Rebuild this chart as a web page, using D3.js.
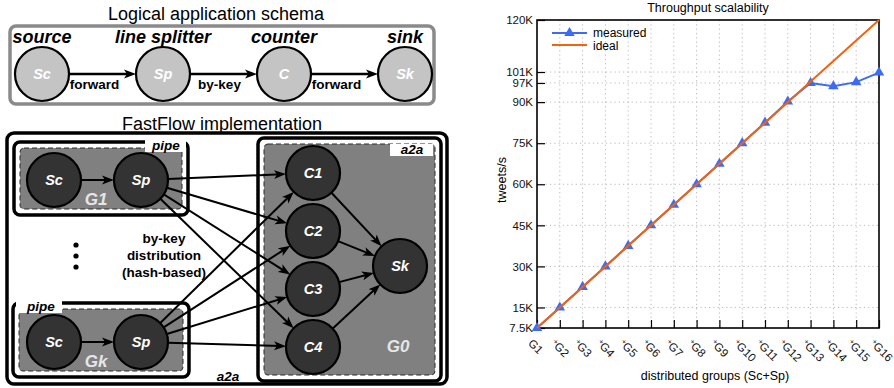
<!DOCTYPE html>
<html>
<head>
<meta charset="utf-8">
<script src="https://cdn.jsdelivr.net/npm/d3@7"></script>
<style>
  body { margin: 0; background: #fff; }
  svg { display: block; }
</style>
</head>
<body>
<div id="vis"></div>
<script>
const WIDTH = 894;
const HEIGHT = 388;
const FONT = "'Liberation Sans', Arial, Helvetica, sans-serif";

// logical application schema
const roles = ["source", "line splitter", "counter", "sink"];
const logicalNodes = ["Sc", "Sp", "C", "Sk"];
const logicalEdges = ["forward", "by-key", "forward"];

// FastFlow implementation
const groups = ["G1", "Gk"];
const counters = ["C1", "C2", "C3", "C4"];
const distLabel = ["by-key", "distribution", "(hash-based)"];

// throughput chart (K tweets/s)
const steps = ["G1", "+G2", "+G3", "+G4", "+G5", "+G6", "+G7", "+G8",
               "+G9", "+G10", "+G11", "+G12", "+G13", "+G14", "+G15", "+G16"];
const measured = [7.5, 15, 22.5, 30, 37.5, 45, 52.5, 60, 67.5, 75, 82.5, 90.2, 97, 95.8, 97.3, 100.8];
const ideal = [7.5, 15, 22.5, 30, 37.5, 45, 52.5, 60, 67.5, 75, 82.5, 90, 97.5, 105, 112.5, 120];
const yTicks = [7.5, 15, 30, 45, 60, 75, 90, 97, 101, 120];
const yTickLabels = ["7.5K", "15K", "30K", "45K", "60K", "75K", "90K", "97K", "101K", "120K"];

const BLUE = "#3d6cf4";
const ORANGE = "#f2620f";

const svg = d3.select("#vis")
  .append("svg")
    .attr("width", WIDTH)
    .attr("height", HEIGHT)
    .attr("font-family", FONT);

svg.append("defs").append("marker")
    .attr("id", "arrow")
    .attr("viewBox", "0 -5 12 10")
    .attr("refX", 7)
    .attr("refY", 0)
    .attr("markerWidth", 12)
    .attr("markerHeight", 10)
    .attr("markerUnits", "userSpaceOnUse")
    .attr("orient", "auto")
  .append("path")
    .attr("d", "M0,-4.5L12,0L0,4.5L3,0Z")
    .attr("fill", "#000");

// arrow between two circles of radius r
function edge(g, a, b, r, w) {
  const dx = b.x - a.x, dy = b.y - a.y, len = Math.hypot(dx, dy);
  const ux = dx / len, uy = dy / len;
  g.append("line")
    .attr("x1", a.x + ux * r).attr("y1", a.y + uy * r)
    .attr("x2", b.x - ux * (r + 5)).attr("y2", b.y - uy * (r + 5))
    .attr("stroke", "#000")
    .attr("stroke-width", w)
    .attr("marker-end", "url(#arrow)");
}

function node(g, p, label, fill, r) {
  g.append("circle")
    .attr("cx", p.x).attr("cy", p.y).attr("r", r)
    .attr("fill", fill).attr("stroke", "#000").attr("stroke-width", 2.2);
  g.append("text")
    .attr("x", p.x).attr("y", p.y + 5)
    .attr("text-anchor", "middle")
    .attr("font-size", 14.5).attr("font-weight", "bold").attr("font-style", "italic")
    .attr("fill", "#fff")
    .text(label);
}

// ---------------- logical schema ----------------
const TOP = svg.append("g");
TOP.append("text")
    .attr("x", 216).attr("y", 20)
    .attr("text-anchor", "middle")
    .attr("font-size", 18)
    .text("Logical application schema");

TOP.append("rect")
    .attr("x", 10).attr("y", 26).attr("width", 424).attr("height", 78)
    .attr("rx", 6)
    .attr("fill", "#fff").attr("stroke", "#8a8a8a").attr("stroke-width", 3.5);

const LX = d3.scalePoint().domain(logicalNodes).range([42, 405]);
const LY = 74;

logicalEdges.forEach((lbl, i) => {
  const a = {x: LX(logicalNodes[i]), y: LY};
  const b = {x: LX(logicalNodes[i + 1]), y: LY};
  edge(TOP, a, b, 27, 2.5);
  TOP.append("text")
      .attr("x", (a.x + b.x) / 2 + (lbl === "by-key" ? -4 : -8)).attr("y", 89)
      .attr("text-anchor", "middle")
      .attr("font-size", 13.5).attr("font-weight", "bold")
      .text(lbl);
});

logicalNodes.forEach((n, i) => {
  node(TOP, {x: LX(n), y: LY}, n, "#c4c4c4", 27);
  TOP.append("text")
      .attr("x", LX(n)).attr("y", 43)
      .attr("text-anchor", "middle")
      .attr("font-size", 18).attr("font-weight", "bold").attr("font-style", "italic")
      .text(roles[i]);
});

// ---------------- FastFlow implementation ----------------
const FF = svg.append("g");
FF.append("text")
    .attr("x", 222).attr("y", 130)
    .attr("text-anchor", "middle")
    .attr("font-size", 18)
    .text("FastFlow implementation");

FF.append("rect")
    .attr("x", 7).attr("y", 133).attr("width", 440).attr("height", 251)
    .attr("rx", 7)
    .attr("fill", "#fff").attr("stroke", "#000").attr("stroke-width", 3.5);

function groupBox(box, tag, tagBox, tagX, tagAnchor) {
  FF.append("rect")
      .attr("x", box.x).attr("y", box.y).attr("width", box.w).attr("height", box.h)
      .attr("rx", 6)
      .attr("fill", "#fff").attr("stroke", "#000").attr("stroke-width", 3.5);
  FF.append("rect")
      .attr("x", box.x + 6).attr("y", box.y + 6).attr("width", box.w - 12).attr("height", box.h - 12)
      .attr("rx", 4)
      .attr("fill", "#808080").attr("stroke", "#2a2a2a").attr("stroke-width", 1)
      .attr("stroke-dasharray", "5,3");
  FF.append("rect")
      .attr("x", tagBox.x).attr("y", tagBox.y).attr("width", tagBox.w).attr("height", tagBox.h)
      .attr("fill", "#fff");
  FF.append("text")
      .attr("x", tagX).attr("y", tagBox.y + tagBox.h - 2)
      .attr("text-anchor", tagAnchor)
      .attr("font-size", 13.5).attr("font-weight", "bold").attr("font-style", "italic")
      .text(tag);
}

groupBox({x: 14, y: 142, w: 174, h: 73}, "pipe", {x: 145, y: 139, w: 41, h: 13}, 166, "middle");
groupBox({x: 13, y: 303, w: 176, h: 74}, "pipe", {x: 16, y: 300, w: 46, h: 13}, 27, "start");
groupBox({x: 258, y: 138, w: 183, h: 243}, "a2a", {x: 390, y: 144, w: 43, h: 12}, 412, "middle");

// tag of the outer a2a
FF.append("text")
    .attr("x", 228).attr("y", 381)
    .attr("text-anchor", "middle")
    .attr("font-size", 13.5).attr("font-weight", "bold").attr("font-style", "italic")
    .text("a2a");

const GY = d3.scalePoint().domain(groups).range([180, 342]);
const CY = d3.scalePoint().domain(counters).range([173, 347]);
const SC_X = 54, SP_X = 141, C_X = 313;
const SK = {x: 400, y: 266};

// edges
groups.forEach(g => {
  const sc = {x: SC_X, y: GY(g)}, sp = {x: SP_X, y: GY(g)};
  edge(FF, sc, sp, 27, 2);
  counters.forEach(c => edge(FF, sp, {x: C_X, y: CY(c)}, 27, 2));
});
counters.forEach(c => edge(FF, {x: C_X, y: CY(c)}, SK, 27, 2));

// nodes
groups.forEach(g => {
  node(FF, {x: SC_X, y: GY(g)}, "Sc", "#333", 27);
  node(FF, {x: SP_X, y: GY(g)}, "Sp", "#333", 27);
  FF.append("text")
      .attr("x", 96).attr("y", GY(g) + 25)
      .attr("text-anchor", "middle")
      .attr("font-size", 17).attr("font-weight", "bold").attr("font-style", "italic")
      .attr("fill", "#e6e6e6")
      .text(g);
});
counters.forEach(c => node(FF, {x: C_X, y: CY(c)}, c, "#333", 27));
node(FF, SK, "Sk", "#333", 27);
FF.append("text")
    .attr("x", 398).attr("y", 352)
    .attr("text-anchor", "middle")
    .attr("font-size", 17).attr("font-weight", "bold").attr("font-style", "italic")
    .attr("fill", "#e6e6e6")
    .text("G0");

// vertical ellipsis between groups
FF.selectAll(".dot")
  .data([245, 256, 267])
  .enter()
  .append("circle")
    .attr("cx", 76).attr("cy", d => d).attr("r", 2.6)
    .attr("fill", "#000");

FF.selectAll(".dist")
  .data(distLabel)
  .enter()
  .append("text")
    .attr("x", 164).attr("y", (d, i) => 243 + i * 17)
    .attr("text-anchor", "middle")
    .attr("font-size", 13.5).attr("font-weight", "bold")
    .text(d => d);

// ---------------- throughput chart ----------------
const PLOT = {left: 537, right: 879, top: 20, bottom: 328};
const CH = svg.append("g");

const X_SCALE = d3.scalePoint().domain(steps).range([PLOT.left, PLOT.right]);
const Y_SCALE = d3.scaleLinear().domain([7.5, 120]).range([PLOT.bottom, PLOT.top]);

// dotted grid
CH.selectAll(".hgrid")
  .data(yTicks.slice(1, -1))
  .enter()
  .append("line")
    .attr("x1", PLOT.left).attr("x2", PLOT.right)
    .attr("y1", d => Y_SCALE(d)).attr("y2", d => Y_SCALE(d))
    .attr("stroke", "#bdbdbd").attr("stroke-dasharray", "1.3,3");
CH.selectAll(".vgrid")
  .data(steps.slice(1, -1))
  .enter()
  .append("line")
    .attr("x1", d => X_SCALE(d)).attr("x2", d => X_SCALE(d))
    .attr("y1", PLOT.top).attr("y2", PLOT.bottom)
    .attr("stroke", "#bdbdbd").attr("stroke-dasharray", "1.3,3");

// axes with inward ticks
const yAxis = CH.append("g")
    .attr("transform", "translate(" + PLOT.left + ",0)")
    .call(d3.axisLeft(Y_SCALE).tickValues(yTicks)
      .tickFormat((d, i) => yTickLabels[i])
      .tickSizeInner(-8).tickSizeOuter(0).tickPadding(4));
yAxis.select(".domain").remove();
yAxis.attr("font-family", FONT);
yAxis.selectAll("line").attr("stroke", "#000").attr("stroke-width", 1.2);
yAxis.selectAll("text").attr("font-size", 11.5).attr("fill", "#111");

const xAxis = CH.append("g")
    .attr("transform", "translate(0," + PLOT.bottom + ")")
    .call(d3.axisBottom(X_SCALE).tickSizeInner(-8).tickSizeOuter(0));
xAxis.select(".domain").remove();
xAxis.attr("font-family", FONT);
xAxis.selectAll("line").attr("stroke", "#000").attr("stroke-width", 1.2);
xAxis.selectAll("text").each(function(d) {
  const t = d3.select(this)
      .text(null)
      .attr("x", 0).attr("y", 0).attr("dy", null)
      .attr("text-anchor", "start")
      .attr("transform", "translate(-10,16) rotate(45)")
      .attr("font-size", 11.5).attr("fill", "#111");
  if (d.startsWith("+")) {
    t.append("tspan").attr("font-size", 7.5).attr("dy", -3).text("+");
    t.append("tspan").attr("dy", 3).text(d.slice(1));
  } else {
    t.text(d);
  }
});

// frame
CH.append("rect")
    .attr("x", PLOT.left).attr("y", PLOT.top)
    .attr("width", PLOT.right - PLOT.left).attr("height", PLOT.bottom - PLOT.top)
    .attr("fill", "none").attr("stroke", "#000").attr("stroke-width", 1.6);

// series
const line = d3.line()
  .x((d, i) => X_SCALE(steps[i]))
  .y(d => Y_SCALE(d));

CH.append("path")
    .datum(measured)
    .attr("d", line)
    .attr("fill", "none").attr("stroke", BLUE).attr("stroke-width", 2);

const tri = d3.symbol().type(d3.symbolTriangle).size(48);
CH.selectAll(".pt")
  .data(measured)
  .enter()
  .append("path")
    .attr("d", tri)
    .attr("transform", (d, i) => "translate(" + X_SCALE(steps[i]) + "," + Y_SCALE(d) + ")")
    .attr("fill", BLUE);

CH.append("path")
    .datum(ideal)
    .attr("d", line)
    .attr("fill", "none").attr("stroke", ORANGE).attr("stroke-width", 2);

// legend
const LEG = CH.append("g").attr("font-size", 12);
LEG.append("line")
    .attr("x1", 552).attr("x2", 587).attr("y1", 33).attr("y2", 33)
    .attr("stroke", BLUE).attr("stroke-width", 2);
LEG.append("path")
    .attr("d", tri)
    .attr("transform", "translate(569.5,33)")
    .attr("fill", BLUE);
LEG.append("text").attr("x", 593).attr("y", 37).text("measured");
LEG.append("line")
    .attr("x1", 552).attr("x2", 587).attr("y1", 45).attr("y2", 45)
    .attr("stroke", ORANGE).attr("stroke-width", 2);
LEG.append("text").attr("x", 593).attr("y", 50).text("ideal");

// titles
CH.append("text")
    .attr("x", 708).attr("y", 12)
    .attr("text-anchor", "middle")
    .attr("font-size", 12.5)
    .text("Throughput scalability");
CH.append("text")
    .attr("transform", "translate(506,180) rotate(-90)")
    .attr("text-anchor", "middle")
    .attr("font-size", 12.5)
    .text("tweets/s");
CH.append("text")
    .attr("x", 715).attr("y", 380)
    .attr("text-anchor", "middle")
    .attr("font-size", 12.5)
    .text("distributed groups (Sc+Sp)");
</script>
</body>
</html>
